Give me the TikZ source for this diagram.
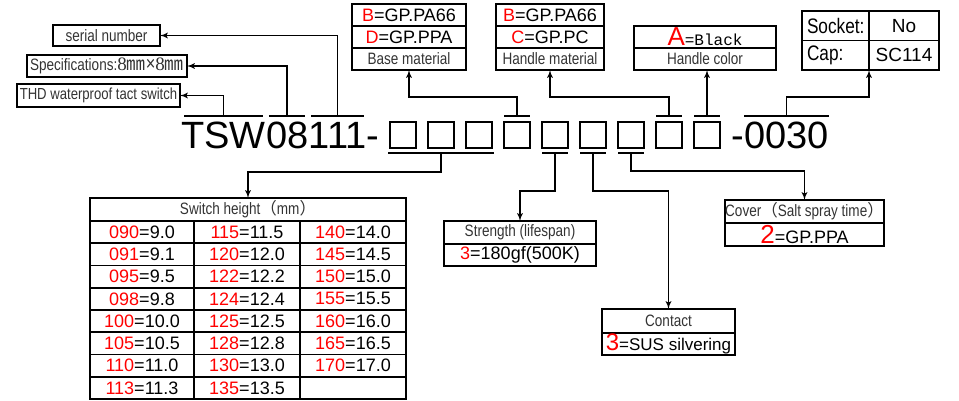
\documentclass[tikz,border=0pt]{standalone}
\usepackage{fontspec}
\usepackage{xcolor}
\usepackage{tikz}
\usetikzlibrary{arrows, positioning, calc}

\setmainfont{Liberation Sans}
\newfontfamily\narrowfont[FakeStretch=0.82]{Liberation Sans}
\newfontfamily\cjkfont{Noto Sans CJK SC}
\newfontfamily\typefont{Liberation Mono}
\newfontfamily\numfont{Liberation Serif}

\definecolor{codered}{RGB}{255,0,0}
\definecolor{labelgray}{RGB}{51,51,51}
\newcommand{\opt}[1]{\textcolor{codered}{#1}}
\newcommand{\fsz}[1]{\fontsize{#1}{#1}\selectfont}
\newcommand{\fwl}{{\cjkfont （}}
\newcommand{\fwr}{{\cjkfont ）}}

\begin{document}
\begin{tikzpicture}[
    x=1pt, y=-1pt,
    box/.style={rectangle, draw, line width=1.9pt, inner sep=0pt, outer sep=0pt, minimum height=22pt},
    lbl/.style={box, font=\narrowfont\fsz{16.5}, text=labelgray},
    val/.style={box, font=\fsz{18}},
    pn/.style={inner sep=0pt, font=\fsz{38}, text height=27pt, text depth=0pt},
    sq/.style={rectangle, draw, line width=1.4pt, minimum size=26pt, inner sep=0pt, outer sep=0pt},
    bar/.style={line width=2pt},
    link/.style={-latex', line width=1.7pt},
    node distance=0pt
]
\useasboundingbox (0,0) rectangle (959,400);

% part number
\node [pn, anchor=base west] (tsw) at (181,148) {TSW};
\node [pn, anchor=base west] (dim) at (tsw.base east) {08};
\node [pn, anchor=base west] (seq) at (dim.base east) {111};
\node [pn, anchor=base west] (dash) at (seq.base east) {-};
\foreach \i in {0,...,8}
    \node [sq] (s\i) at ({403+38*\i},135) {};
\node [pn, anchor=base west] (dash2) at (731,148) {-};
\node [pn, anchor=base west] (tail) at (dash2.base east) {0030};

% bars over and under the code
\foreach \n in {tsw,dim,seq}
    \draw [bar] ([shift={(3pt,5pt)}]\n.north west) -- ([shift={(-3pt,5pt)}]\n.north east);
\draw [bar] ([yshift=5pt]tail.north west) -- ([yshift=5pt]tail.north east);
\foreach \i in {3,7,8}
    \draw [bar] ([yshift=6pt]s\i.north west) -- ([yshift=6pt]s\i.north east);
\foreach \i in {4,5,6}
    \draw [bar] ([yshift=-5pt]s\i.south west) -- ([yshift=-5pt]s\i.south east);
\draw [bar] ([shift={(-2pt,-5pt)}]s0.south west) -- ([shift={(2pt,-5pt)}]s2.south east);

% left labels
\node [lbl, minimum width=107pt, minimum height=21pt] (serialno) at (106.5,35.5) {serial number};
\node [lbl, minimum width=160pt] (spec) at (107,66) {Specifications:{\numfont\fsz{19}8}{\cjkfont\fsz{19}㎜}{\fsz{20}×}{\numfont\fsz{19}8}{\cjkfont\fsz{19}㎜}};
\node [lbl, font=\narrowfont\fsz{16}, minimum width=163pt, minimum height=23pt] (thd) at (98.5,95.5) {THD waterproof tact switch};

% top boxes
\node [val, minimum width=114pt, anchor=north] (base1) at (409,4) {\opt{B}=GP.PA66};
\node [val, minimum width=114pt, below=of base1] (base2) {\opt{D}=GP.PPA};
\node [lbl, minimum width=114pt, below=of base2] (base) {Base material};

\node [val, minimum width=108pt, anchor=north] (hmat1) at (550,4) {\opt{B}=GP.PA66};
\node [val, minimum width=108pt, below=of hmat1] (hmat2) {\opt{C}=GP.PC};
\node [lbl, minimum width=108pt, below=of hmat2] (hmat) {Handle material};

\node [val, minimum width=142pt, anchor=north] (hcol1) at (705,26) {\opt{\fsz{26}A}{\typefont\fsz{16}=Black}};
\node [lbl, minimum width=142pt, below=of hcol1] (hcol) {Handle color};

\node [box, font=\narrowfont\fsz{21}, text width=57pt, align=left, inner xsep=5pt, minimum height=29.5pt, anchor=north west] (sock) at (802,11) {Socket:};
\node [val, font=\fsz{19}, minimum width=70pt, minimum height=29.5pt, right=of sock] (sockv) {No};
\node [box, font=\narrowfont\fsz{21}, text width=57pt, align=left, inner xsep=5pt, minimum height=29.5pt, below=of sock] (cap) {Cap:};
\node [val, font=\fsz{19}, minimum width=70pt, minimum height=29.5pt, below=of sockv] (capv) {SC114};

% switch height table
\node [lbl, minimum width=316pt, minimum height=23pt, anchor=north] (hgt) at (248,198) {Switch height\fwl mm\fwr};
\foreach \a/\b/\c [count=\r] in {
    \opt{090}=9.0/\opt{115}=11.5/\opt{140}=14.0,
    \opt{091}=9.1/\opt{120}=12.0/\opt{145}=14.5,
    \opt{095}=9.5/\opt{122}=12.2/\opt{150}=15.0,
    \opt{098}=9.8/\opt{124}=12.4/\opt{155}=15.5,
    \opt{100}=10.0/\opt{125}=12.5/\opt{160}=16.0,
    \opt{105}=10.5/\opt{128}=12.8/\opt{165}=16.5,
    \opt{110}=11.0/\opt{130}=13.0/\opt{170}=17.0,
    \opt{113}=11.3/\opt{135}=13.5/{}} {
    \node [val, minimum width=104pt, minimum height=22.25pt] (h\r-1) at (142,{221+22.25*(\r-0.5)}) {\a};
    \node [val, minimum width=106pt, minimum height=22.25pt] (h\r-2) at (247,{221+22.25*(\r-0.5)}) {\b};
    \node [val, minimum width=106pt, minimum height=22.25pt] (h\r-3) at (353,{221+22.25*(\r-0.5)}) {\c};
}

% lower boxes
\node [lbl, minimum width=152pt, minimum height=23pt, anchor=north] (str) at (520,221) {Strength (lifespan)};
\node [val, minimum width=152pt, below=of str] (strv) {\opt{3}=180gf(500K)};

\node [lbl, minimum width=133pt, minimum height=24pt, anchor=north] (contact) at (668.5,309) {Contact};
\node [val, minimum width=133pt, below=of contact] (contactv) {\opt{\fsz{24}3}\fsz{17}=SUS silvering};

\node [lbl, minimum width=159pt, minimum height=23pt, anchor=north] (cover) at (804.5,200) {Cover\fwl Salt spray time\fwr};
\node [val, minimum width=159pt, minimum height=23pt, below=of cover] (coverv) {\opt{\fsz{26}2}\fsz{18}=GP.PPA};

% connectors
\draw [link] ([yshift=5pt]tsw.north) |- (thd.east);
\draw [link] ([yshift=5pt]dim.north) |- (spec.east);
\draw [link] ([yshift=5pt]seq.north) |- (serialno.east);
\draw [link] ([yshift=6pt]s3.north) -- ++(0,-19) -| (base.south);
\draw [link] ([yshift=6pt]s7.north) -- ++(0,-19) -| (hmat.south);
\draw [link] ([yshift=6pt]s8.north) -- (s8.north |- hcol.south);
\draw [link] ([yshift=5pt]tail.north) -- ++(0,-19) -| (cap.south east);
\draw [link] ([yshift=-5pt]s1.south) -- ++(0,19) -| (hgt.north);
\draw [link] ([yshift=-5pt]s4.south) -- ++(0,38) -| (str.north);
\draw [link] ([yshift=-5pt]s5.south) -- ++(0,38) -| (contact.north);
\draw [link] ([yshift=-5pt]s6.south) -- ++(0,18) -| (cover.north);
\end{tikzpicture}
\end{document}
